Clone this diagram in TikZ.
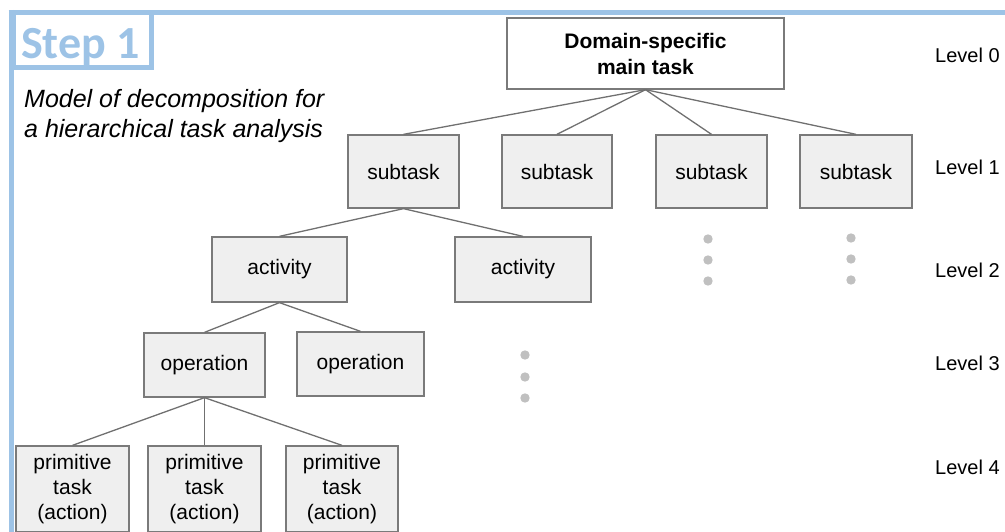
\documentclass[tikz,border=0pt]{standalone}
\usepackage{fontspec}
\setmainfont{Liberation Sans}
\newfontfamily\stepfont{Carlito}
\definecolor{frameblue}{HTML}{9DC3E6}
\definecolor{boxfill}{HTML}{EFEFEF}
\definecolor{boxline}{HTML}{7A7A7A}
\definecolor{linkgray}{HTML}{707070}
\definecolor{dotgray}{HTML}{C0C0C0}
\begin{document}
\begin{tikzpicture}[x=1pt,y=-1pt,
  box/.style={draw=boxline,line width=1.3pt,fill=boxfill,inner sep=0pt,
    font=\fontsize{21}{25}\selectfont,align=center},
  mainbox/.style={box,fill=white,font=\fontsize{21}{26}\selectfont\bfseries},
  link/.style={draw=linkgray,line width=1.3pt},
  dotmark/.style={fill=dotgray,draw=none},
  lvl/.style={font=\fontsize{20}{24}\selectfont,anchor=west,inner sep=0pt}]
\useasboundingbox (0,0) rectangle (1005,532);
% frame
\draw[frameblue,line width=5pt] (8.5,12.5) -- (1005,12.5);
\draw[frameblue,line width=5pt] (11,10) -- (11,532);
\draw[frameblue,line width=5pt] (13.5,12.5) rectangle (151,67.5);
\node[inner sep=0pt,anchor=base west,text=frameblue,font=\stepfont\fontsize{46}{50}\selectfont\bfseries] (steplabel) at (21,59) {Step 1};
\node[inner sep=0pt,anchor=north west,align=left,font=\fontsize{25}{30}\selectfont\itshape] (title) at (24,89) {Model of decomposition for\\a hierarchical task analysis};
% nodes
\node[mainbox,minimum width=277pt,minimum height=71pt] (main) at (645.5,53.5) {Domain-specific\\main task};
\node[box,minimum width=111pt,minimum height=73pt] (s1) at (403.5,171.5) {subtask};
\node[box,minimum width=110pt,minimum height=73pt] (s2) at (557,171.5) {subtask};
\node[box,minimum width=111pt,minimum height=73pt] (s3) at (711.5,171.5) {subtask};
\node[box,minimum width=112pt,minimum height=73pt] (s4) at (856,171.5) {subtask};
\node[box,minimum width=135pt,minimum height=65pt] (a1) at (279.5,269.5) {activity};
\node[box,minimum width=136pt,minimum height=65pt] (a2) at (523,269.5) {activity};
\node[box,minimum width=121pt,minimum height=64pt] (o1) at (204.5,365) {operation};
\node[box,minimum width=127pt,minimum height=64pt] (o2) at (360.5,364) {operation};
\node[box,minimum width=113pt,minimum height=86pt] (p1) at (72.5,489) {primitive\\task\\(action)};
\node[box,minimum width=113pt,minimum height=86pt] (p2) at (204.5,489) {primitive\\task\\(action)};
\node[box,minimum width=112pt,minimum height=86pt] (p3) at (342,489) {primitive\\task\\(action)};
% links
\foreach \c in {s1,s2,s3,s4} \draw[link] (main.south) -- (\c.north);
\foreach \c in {a1,a2} \draw[link] (s1.south) -- (\c.north);
\foreach \c in {o1,o2} \draw[link] (a1.south) -- (\c.north);
\foreach \c in {p1,p2,p3} \draw[link] (o1.south) -- (\c.north);
% dots
\foreach \y in {239,260,281} \fill[dotmark] (708,\y) circle (4.7);
\foreach \y in {238,259,280} \fill[dotmark] (851,\y) circle (4.7);
\foreach \y in {355,377,398} \fill[dotmark] (525,\y) circle (4.7);
% levels
\node[lvl] (l0) at (935,55) {Level 0};
\node[lvl] (l1) at (935,167) {Level 1};
\node[lvl] (l2) at (935,270) {Level 2};
\node[lvl] (l3) at (935,363) {Level 3};
\node[lvl] (l4) at (935,467) {Level 4};
\end{tikzpicture}
\end{document}
